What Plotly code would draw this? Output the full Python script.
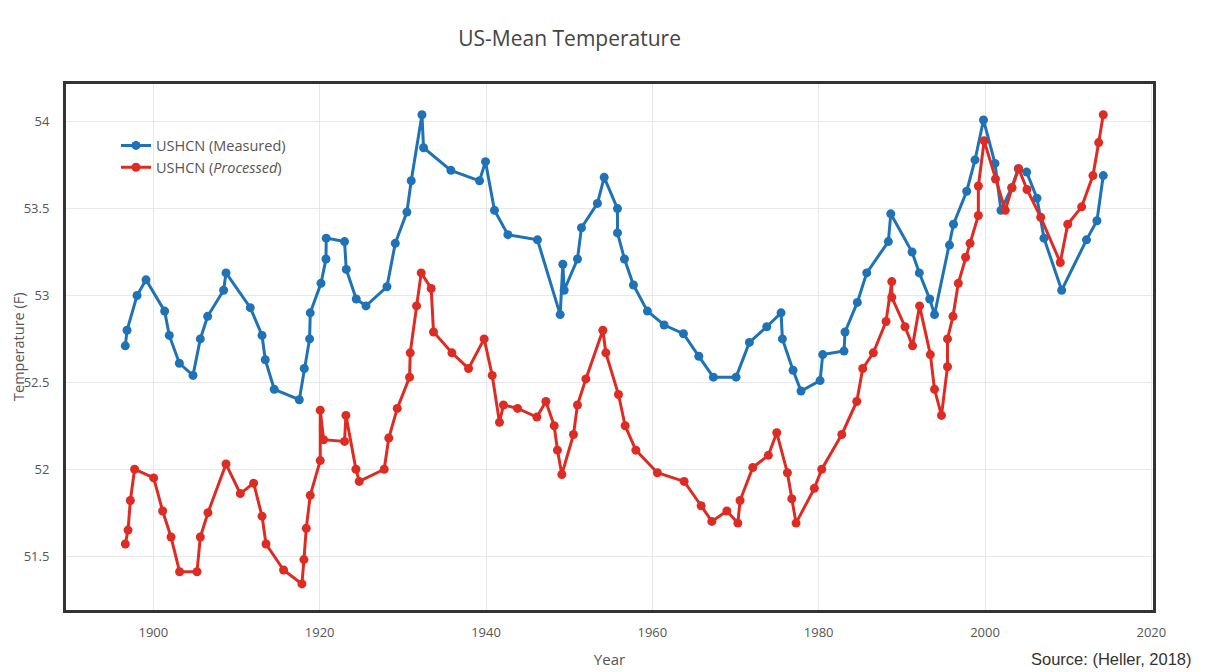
import plotly.graph_objects as go

# ---- data ----
measured_years = [1896.63, 1896.84, 1898.04, 1899.12, 1901.36, 1901.92, 1903.13, 1904.77, 1905.65, 1906.53,
                  1908.45, 1908.74, 1911.66, 1913.07, 1913.46, 1914.54, 1917.55, 1918.15, 1918.79, 1918.87,
                  1920.16, 1920.76, 1920.79, 1922.99, 1923.20, 1924.40, 1925.57, 1928.09, 1929.09, 1930.49,
                  1931.01, 1932.30, 1932.49, 1935.78, 1939.22, 1939.94, 1941.02, 1942.63, 1946.19, 1948.92,
                  1949.24, 1949.40, 1951.00, 1951.48, 1953.40, 1954.21, 1955.81, 1955.81, 1956.65, 1957.73,
                  1959.41, 1961.42, 1963.74, 1965.59, 1967.34, 1970.07, 1971.67, 1973.76, 1975.48, 1975.64,
                  1976.92, 1977.88, 1980.17, 1980.49, 1983.05, 1983.17, 1984.65, 1985.78, 1988.38, 1988.67,
                  1991.23, 1992.10, 1993.35, 1993.93, 1995.73, 1996.21, 1997.80, 1998.80, 1999.82, 2001.20,
                  2001.92, 2003.21, 2004.00, 2005.01, 2006.25, 2007.09, 2009.22, 2012.20, 2013.46, 2014.22]
measured_temps = [52.71, 52.80, 53.00, 53.09, 52.91, 52.77, 52.61, 52.54, 52.75, 52.88,
                  53.03, 53.13, 52.93, 52.77, 52.63, 52.46, 52.40, 52.58, 52.75, 52.90,
                  53.07, 53.21, 53.33, 53.31, 53.15, 52.98, 52.94, 53.05, 53.30, 53.48,
                  53.66, 54.04, 53.85, 53.72, 53.66, 53.77, 53.49, 53.35, 53.32, 52.89,
                  53.18, 53.03, 53.21, 53.39, 53.53, 53.68, 53.50, 53.36, 53.21, 53.06,
                  52.91, 52.83, 52.78, 52.65, 52.53, 52.53, 52.73, 52.82, 52.90, 52.75,
                  52.57, 52.45, 52.51, 52.66, 52.68, 52.79, 52.96, 53.13, 53.31, 53.47,
                  53.25, 53.13, 52.98, 52.89, 53.29, 53.41, 53.60, 53.78, 54.01, 53.76,
                  53.49, 53.62, 53.73, 53.71, 53.56, 53.33, 53.03, 53.32, 53.43, 53.69]

processed_years = [1896.63, 1896.96, 1897.24, 1897.75, 1900.04, 1901.12, 1902.13, 1903.16, 1905.25, 1905.65,
                   1906.57, 1908.74, 1910.46, 1912.06, 1913.07, 1913.55, 1915.66, 1917.87, 1918.11, 1918.39,
                   1918.87, 1920.07, 1920.07, 1920.47, 1922.99, 1923.16, 1924.36, 1924.76, 1927.76, 1928.31,
                   1929.33, 1930.81, 1930.89, 1931.65, 1932.21, 1933.41, 1933.69, 1935.90, 1937.90, 1939.78,
                   1940.75, 1941.62, 1942.10, 1943.79, 1946.12, 1947.20, 1948.20, 1948.59, 1949.12, 1950.52,
                   1951.00, 1952.01, 1954.05, 1954.41, 1955.93, 1956.73, 1958.02, 1960.61, 1963.82, 1965.87,
                   1967.15, 1968.96, 1970.28, 1970.55, 1972.08, 1973.95, 1974.96, 1976.24, 1976.77, 1977.28,
                   1979.48, 1980.37, 1982.78, 1984.58, 1985.30, 1986.57, 1988.10, 1988.79, 1988.79, 1990.38,
                   1991.29, 1992.13, 1993.43, 1993.93, 1994.77, 1995.49, 1995.49, 1996.15, 1996.79, 1997.66,
                   1998.20, 1999.20, 1999.20, 1999.90, 2001.26, 2002.44, 2003.25, 2004.05, 2005.05, 2006.70,
                   2009.05, 2009.95, 2011.62, 2012.98, 2013.67, 2014.22]
processed_temps = [51.57, 51.65, 51.82, 52.00, 51.95, 51.76, 51.61, 51.41, 51.41, 51.61,
                   51.75, 52.03, 51.86, 51.92, 51.73, 51.57, 51.42, 51.34, 51.48, 51.66,
                   51.85, 52.05, 52.34, 52.17, 52.16, 52.31, 52.00, 51.93, 52.00, 52.18,
                   52.35, 52.53, 52.67, 52.94, 53.13, 53.04, 52.79, 52.67, 52.58, 52.75,
                   52.54, 52.27, 52.37, 52.35, 52.30, 52.39, 52.25, 52.11, 51.97, 52.20,
                   52.37, 52.52, 52.80, 52.67, 52.43, 52.25, 52.11, 51.98, 51.93, 51.79,
                   51.70, 51.76, 51.69, 51.82, 52.01, 52.08, 52.21, 51.98, 51.83, 51.69,
                   51.89, 52.00, 52.20, 52.39, 52.58, 52.67, 52.85, 53.08, 52.99, 52.82,
                   52.71, 52.94, 52.66, 52.46, 52.31, 52.59, 52.75, 52.88, 53.07, 53.22,
                   53.30, 53.46, 53.63, 53.89, 53.67, 53.49, 53.62, 53.73, 53.61, 53.45,
                   53.19, 53.41, 53.51, 53.69, 53.88, 54.04]

series_names = ["USHCN (Measured)", "USHCN (<i>Processed</i>)"]
x_ticks = [1900, 1920, 1940, 1960, 1980, 2000, 2020]
y_ticks = [51.5, 52, 52.5, 53, 53.5, 54]
y_tick_labels = ["51.5", "52", "52.5", "53", "53.5", "54"]

BLUE = "#1f72b5"
RED = "#dd2c24"
FONT = "Open Sans"

fig = go.Figure()
fig.add_trace(go.Scatter(x=measured_years, y=measured_temps, mode="lines+markers",
                         name=series_names[0],
                         line=dict(color=BLUE, width=3),
                         marker=dict(color=BLUE, size=9)))
fig.add_trace(go.Scatter(x=processed_years, y=processed_temps, mode="lines+markers",
                         name=series_names[1],
                         line=dict(color=RED, width=3),
                         marker=dict(color=RED, size=9)))

fig.update_layout(
    width=1212, height=672,
    margin=dict(l=66, r=59, t=84, b=62, autoexpand=False),
    paper_bgcolor="white", plot_bgcolor="white",
    font=dict(family=FONT, color="#555", size=13),
    title=dict(text="US-Mean Temperature", x=0.47, xanchor="center", y=0.943, yanchor="middle",
               automargin=False, font=dict(family=FONT, size=21, color="#444")),
    showlegend=True,
    legend=dict(x=0.046, y=0.9135, xanchor="left", yanchor="top", itemwidth=30,
                bgcolor="rgba(0,0,0,0)", font=dict(family=FONT, size=14.5, color="#555")),
    annotations=[
        dict(text="Source: (Heller, 2018)", xref="paper", yref="paper",
             x=1.038, y=-0.093, xanchor="right", yanchor="middle", showarrow=False,
             font=dict(family="Liberation Sans", size=16.5, color="#333")),
        dict(text="Temperature (F)", xref="paper", yref="paper", textangle=-90,
             x=-0.0442, y=0.5, xanchor="center", yanchor="middle", showarrow=False,
             font=dict(family=FONT, size=14.5, color="#555")),
    ],
)

fig.update_xaxes(
    range=[1889.5, 2020.2], tickmode="array", tickvals=x_ticks, automargin=False,
    showgrid=True, gridcolor="#e8e8e8", gridwidth=1, zeroline=False,
    showline=True, mirror=True, linecolor="#333", linewidth=3,
    ticks="", ticklabelstandoff=8,
    tickfont=dict(family=FONT, size=13, color="#555"),
    title=dict(text="Year", standoff=15, font=dict(family=FONT, size=15, color="#555")),
)
fig.update_yaxes(
    range=[51.19, 54.217], tickmode="array", tickvals=y_ticks, ticktext=y_tick_labels, automargin=False,
    showgrid=True, gridcolor="#e8e8e8", gridwidth=1, zeroline=False,
    showline=True, mirror=True, linecolor="#333", linewidth=3,
    ticks="", ticklabelstandoff=11,
    tickfont=dict(family=FONT, size=13, color="#555"),
)

fig.write_html("out.html", config={"displayModeBar": False},
               post_script="document.body.style.margin='0';document.body.style.overflow='hidden';")
